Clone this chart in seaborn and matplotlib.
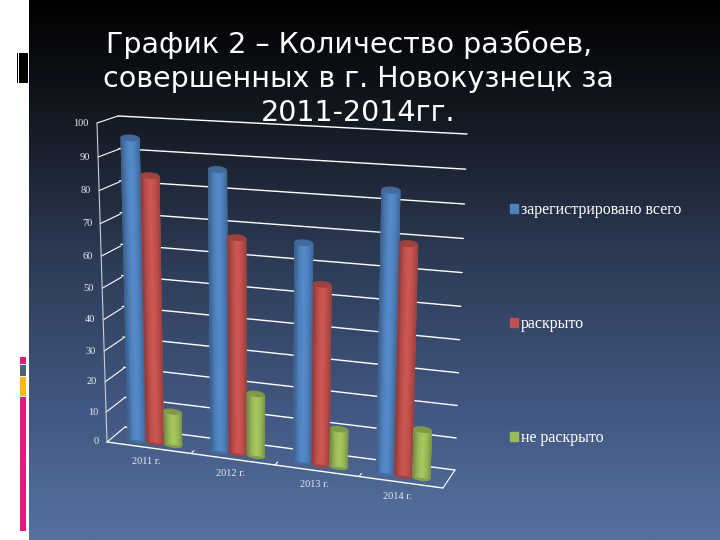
import numpy as np
import pandas as pd
import seaborn as sns
import matplotlib
matplotlib.use('Agg')
import matplotlib.pyplot as plt
from matplotlib.colors import LinearSegmentedColormap
from matplotlib.patches import Ellipse, Patch, Rectangle
from matplotlib.transforms import Transform

#values
years = ['2011 г.', '2012 г.', '2013 г.', '2014 г.']
series_names = ['зарегистрировано всего', 'раскрыто', 'не раскрыто']
registered = [96, 88, 68, 85]
solved = [85, 68, 56, 70]
unsolved = [11, 20, 12, 15]
y_ticks = [0, 10, 20, 30, 40, 50, 60, 70, 80, 90, 100]
title_text = 'График 2 – Количество разбоев,\u00a0\u00a0\nсовершенных в г. Новокузнецк за\n2011-2014гг.'

colors = ['#4f81bd', '#c0504d', '#9bbb59']
W, H = 720, 540


#fake 3d: maps data coords onto a quad given in image pixels
class Quad(Transform):
    input_dims = 2
    output_dims = 2
    is_separable = False
    has_inverse = False

    def __init__(self, x0, x1, lb, rb, lt, rt, a):
        super().__init__()
        self.x0, self.x1, self.a = x0, x1, a
        self.lb, self.rb, self.lt, self.rt = [np.array(p, float) for p in (lb, rb, lt, rt)]

    def transform_non_affine(self, values):
        values = np.asarray(values, float)
        s = ((values[:, 0] - self.x0) / (self.x1 - self.x0))[:, None]
        t = values[:, 1] / 100
        t = (self.a * t / (1 + (self.a - 1) * t))[:, None]
        p = (1 - s) * (1 - t) * self.lb + s * (1 - t) * self.rb + (1 - s) * t * self.lt + s * t * self.rt
        return np.column_stack([p[:, 0], H - p[:, 1]])


bar_plane = Quad(-0.22, 2.78, (136.7, 440), (385, 473), (129.8, 124.5), (392, 137), 0.94)
wall = Quad(-0.5, 3.5, (125, 427), (455, 470), (118, 116), (467, 134), 0.95)
side = Quad(0, 1, (107, 442), (125, 427), (97, 123), (118, 116), 0.93)
floor = Quad(-0.5, 3.5, (107, 442), (443, 488), (125, 427), (455, 470), 1.0)

sns.set_theme(style='white')
fig = plt.figure(figsize=(7.2, 5.4), dpi=100, facecolor='white')

#slide background
bg = fig.add_axes([0, 0, 1, 1])
slide = LinearSegmentedColormap.from_list('slide', [(0, '#000000'), (0.2, '#12171f'), (0.5, '#2e3d58'),
                                                     (0.75, '#415680'), (1, '#56719f')])
bg.imshow(np.linspace(0, 1, 256)[:, None], cmap=slide, aspect='auto', extent=(29, W, H, 0))
bg.set_xlim(0, W)
bg.set_ylim(H, 0)
bg.axis('off')
for x, y, w, h, c in [(17, 53, 0.8, 30, 'black'), (19, 53, 9, 30, 'black'),
                      (20, 357, 6, 7, '#e6177b'), (20, 365, 6, 11, '#4f6272'),
                      (20, 377, 6, 19, '#fdb813'), (20, 397, 6, 134, '#e6177b')]:
    bg.add_patch(Rectangle((x, y), w, h, color=c, lw=0))

#the bars
df = pd.DataFrame({
    'year': years * 3,
    'series': np.repeat(series_names, 4),
    'value': registered + solved + unsolved,
})
ax = fig.add_axes([0, 0, 1, 1])
sns.barplot(data=df, x='year', y='value', hue='series', palette=colors, width=0.66, gap=0,
            legend=False, ax=ax, saturation=1, linewidth=0)
ax.patch.set_alpha(0)

#walls
for v in y_ticks:
    ax.plot([-0.5, 3.5], [v, v], color='white', lw=1, transform=wall, clip_on=False, zorder=1)
    ax.plot([0, 1], [v, v], color='white', lw=0.8, transform=side, clip_on=False, zorder=1)
    ax.annotate(str(v), xy=(0, v), xycoords=side, xytext=(-8, 0), textcoords='offset pixels', ha='right',
                va='center', fontsize=7.5, family='Liberation Serif', color='#e8ecf2', annotation_clip=False)
ax.plot([0, 0], [0, 100], color='#c8d0dc', lw=0.8, transform=side, clip_on=False, zorder=1)
ax.plot([-0.5, 3.5], [0, 0], color='white', lw=1, transform=floor, clip_on=False, zorder=1)
ax.plot([3.5, 3.5], [0, 100], color='white', lw=0.8, transform=floor, clip_on=False, zorder=1)
for x in [0.5, 1.5, 2.5]:
    ax.plot([x, x], [0, 18], color='white', lw=0.8, transform=floor, clip_on=False, zorder=1)
for i, year in enumerate(years):
    ax.annotate(year, xy=(i, 0), xycoords=floor, xytext=(-3, -14), textcoords='offset pixels', ha='center',
                va='center', fontsize=7.5, family='Liberation Serif', color='#e8ecf2', annotation_clip=False)

#cylinder shading on top of the seaborn bars
#strips overlap only the next one, a longer overlap piles up on the bar edge
n_strips = 18
for k, (container, c) in enumerate(zip(ax.containers, colors)):
    rgb = np.array(matplotlib.colors.to_rgb(c))
    shade = LinearSegmentedColormap.from_list('cyl', [rgb * 0.74, rgb * 0.98, np.minimum(rgb * 1.08, 1), rgb * 0.98, rgb * 0.76])
    z = 3 + k
    for bar in container:
        x0, w, v = bar.get_x(), bar.get_width(), bar.get_height()
        bar.set_transform(bar_plane)
        bar.set_clip_on(False)
        bar.set_zorder(z)
        ax.add_patch(Ellipse((x0 + w / 2, 0), w, 2.0, color=rgb * 0.85, lw=0, transform=bar_plane, clip_on=False, zorder=z))
        for j in range(n_strips):
            f = j / n_strips
            strip_w = min(2 / n_strips, 1 - f) * w
            ax.add_patch(Rectangle((x0 + f * w, 0), strip_w, v, color=shade(f), lw=0, transform=bar_plane,
                                   clip_on=False, zorder=z))
        ax.add_patch(Ellipse((x0 + w / 2, v), w, 2.0, color=rgb * 0.82, lw=0, transform=bar_plane, clip_on=False, zorder=z))

ax.set_axis_off()

#legend
handles = [Patch(color=c, label=n) for c, n in zip(colors, series_names)]
ax.legend(handles=handles, loc='upper left', bbox_to_anchor=(496 / W, 1 - 187.5 / H), frameon=False,
          labelspacing=6.15, handlelength=0.47, handleheight=0.47, handletextpad=0.17,
          prop={'family': 'Liberation Serif', 'size': 11.5}, labelcolor='white')

fig.text(358 / W, 1 - 30.5 / H, title_text, ha='center', va='top', color='white', fontsize=20.5,
         linespacing=1.27, zorder=10)

plt.savefig('out.png', dpi=100)
